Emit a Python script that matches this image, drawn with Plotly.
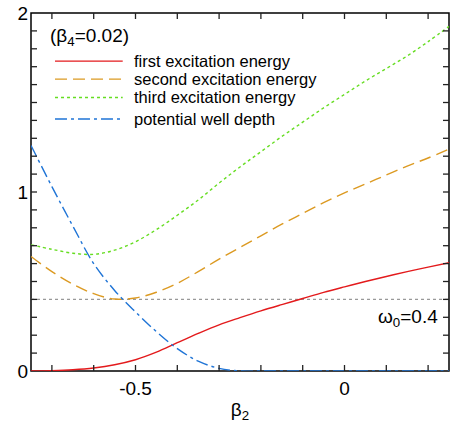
import plotly.graph_objects as go

beta2 = [-0.75, -0.70, -0.65, -0.60, -0.55, -0.50, -0.45, -0.40, -0.35, -0.30, -0.25,
         -0.20, -0.15, -0.10, -0.05, 0.00, 0.05, 0.10, 0.15, 0.20, 0.25]

first_exc = [0.0, 0.002, 0.007, 0.017, 0.035, 0.063, 0.105, 0.158, 0.21, 0.258, 0.298,
             0.336, 0.371, 0.405, 0.439, 0.47, 0.50, 0.528, 0.555, 0.58, 0.605]
second_exc = [0.64, 0.555, 0.485, 0.432, 0.402, 0.408, 0.44, 0.49, 0.555, 0.625, 0.69,
              0.755, 0.82, 0.88, 0.94, 0.995, 1.045, 1.095, 1.145, 1.19, 1.24]
third_exc = [0.705, 0.68, 0.658, 0.652, 0.675, 0.722, 0.79, 0.87, 0.955, 1.05, 1.14,
             1.225, 1.31, 1.39, 1.47, 1.545, 1.62, 1.69, 1.76, 1.84, 1.925]
well_depth = [1.26, 1.03, 0.81, 0.60, 0.45, 0.33, 0.22, 0.125, 0.055, 0.015, 0.0,
              0.0, 0.0, 0.0, 0.0, 0.0, 0.0, 0.0, 0.0, 0.0, 0.0]

omega0 = 0.4
beta4_label = "(β<sub>4</sub>=0.02)"
omega_label = "ω<sub>0</sub>=0.4"
series_names = ["first excitation energy", "second excitation energy",
                "third excitation energy", "potential well depth"]

x_tickvals = [-0.7, -0.6, -0.5, -0.4, -0.3, -0.2, -0.1, 0.0, 0.1, 0.2]
x_ticktext = ["", "", "-0.5", "", "", "", "", "0", "", ""]
y_tickvals = [0.0, 0.1, 0.2, 0.3, 0.4, 0.5, 0.6, 0.7, 0.8, 0.9, 1.0,
              1.1, 1.2, 1.3, 1.4, 1.5, 1.6, 1.7, 1.8, 1.9, 2.0]
y_ticktext = ["0", "", "", "", "", "", "", "", "", "", "1",
              "", "", "", "", "", "", "", "", "", "2"]

colors = ["#e31a1c", "#dc9a22", "#66dd22", "#1f74d6"]
dashes = ["solid", "12px,6px", "3px,3px", "12px,4px,3px,4px"]
series = [first_exc, second_exc, third_exc, well_depth]

fig = go.Figure()

fig.add_trace(go.Scatter(x=[beta2[0], beta2[-1]], y=[omega0, omega0], mode="lines",
                         line=dict(color="#999999", width=1.3, dash="3px,3px"),
                         showlegend=False, hoverinfo="skip"))

for name, ys, c, d in zip(series_names, series, colors, dashes):
    fig.add_trace(go.Scatter(x=beta2, y=ys, mode="lines", name=name,
                             line=dict(color=c, width=1.4, dash=d, shape="spline", smoothing=1.0),
                             showlegend=False))

font_family = "Liberation Sans, Arial, sans-serif"

# frame around the plot area
fig.add_shape(type="rect", xref="paper", yref="paper", x0=0, x1=1, y0=0, y1=1,
              line=dict(color="black", width=1.5), layer="below")

# inside tick marks on all four sides (axis decoration)
tick_len = 6
tick_style = dict(color="#222222", width=1.3)
for xv in x_tickvals:
    fig.add_shape(type="line", xref="x", yref="paper", ysizemode="pixel", yanchor=0,
                  x0=xv, x1=xv, y0=0, y1=tick_len, line=tick_style, layer="above")
    fig.add_shape(type="line", xref="x", yref="paper", ysizemode="pixel", yanchor=1,
                  x0=xv, x1=xv, y0=0, y1=-tick_len, line=tick_style, layer="above")
for yv in y_tickvals[1:-1]:
    fig.add_shape(type="line", xref="paper", yref="y", xsizemode="pixel", xanchor=0,
                  x0=0, x1=tick_len, y0=yv, y1=yv, line=tick_style, layer="above")
    fig.add_shape(type="line", xref="paper", yref="y", xsizemode="pixel", xanchor=1,
                  x0=0, x1=-tick_len, y0=yv, y1=yv, line=tick_style, layer="above")

# legend drawn manually (long line samples)
row_y = [0.8655, 0.8153, 0.7641, 0.7040]
for name, c, d, yy in zip(series_names, colors, dashes, row_y):
    fig.add_shape(type="line", xref="paper", yref="paper", x0=0.0574, x1=0.2194, y0=yy, y1=yy,
                  line=dict(color=c, width=1.4, dash=d))
    fig.add_annotation(xref="paper", yref="paper", x=0.2420, y=yy, text=name, showarrow=False,
                       xanchor="left", yanchor="middle", font=dict(size=16.5, color="black", family=font_family))

fig.add_annotation(xref="paper", yref="paper", x=0.040, y=0.933, text=beta4_label, showarrow=False,
                   xanchor="left", yanchor="middle", font=dict(size=19, color="black", family=font_family))
fig.add_annotation(xref="paper", yref="paper", x=0.978, y=0.148, text=omega_label, showarrow=False,
                   xanchor="right", yanchor="middle", font=dict(size=19, color="black", family=font_family))

fig.update_xaxes(range=[-0.75, 0.25], tickmode="array", tickvals=x_tickvals, ticktext=x_ticktext,
                 showline=False, ticks="", ticklabelstandoff=4,
                 showgrid=False, zeroline=False, automargin=False, ticklabeloverflow="allow",
                 tickfont=dict(size=19, color="black", family=font_family),
                 title=dict(text="β<sub>2</sub>", font=dict(size=19, color="black", family=font_family), standoff=4))
fig.update_yaxes(range=[0, 2], tickmode="array", tickvals=y_tickvals, ticktext=y_ticktext,
                 showline=False, ticks="", ticklabelstandoff=2,
                 showgrid=False, zeroline=False, automargin=False, ticklabeloverflow="allow",
                 tickfont=dict(size=19, color="black", family=font_family))

fig.update_layout(width=455, height=432, margin=dict(l=31, r=6, t=12.5, b=60.5),
                  plot_bgcolor="white", paper_bgcolor="white", showlegend=False,
                  font=dict(family=font_family, color="black"))

fig.write_html("out.html", config={"displayModeBar": False},
               post_script="document.body.style.margin='0px';document.body.style.overflow='hidden';")
